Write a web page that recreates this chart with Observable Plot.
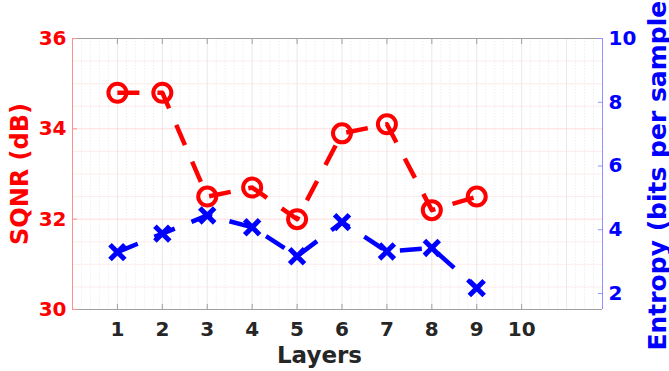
<!DOCTYPE html>
<html>
<head>
<meta charset="utf-8">
<script src="https://cdn.jsdelivr.net/npm/d3@7"></script>
<script src="https://cdn.jsdelivr.net/npm/@observablehq/plot@0.6"></script>
<style>
  html, body { margin: 0; padding: 0; background: #fff; }
  svg { display: block; }
</style>
</head>
<body>
<div id="chart"></div>
<script>
// ---- data ----
const layers = [1, 2, 3, 4, 5, 6, 7, 8, 9];
const sqnr = [34.8, 34.8, 32.5, 32.7, 32.0, 33.9, 34.1, 32.2, 32.5];
const entropy = [3.30, 3.88, 4.45, 4.08, 3.17, 4.24, 3.32, 3.43, 2.17];
const xTicks = [1, 2, 3, 4, 5, 6, 7, 8, 9, 10];
const sqnrTicks = [30, 32, 34, 36];
const entropyTicks = [2, 4, 6, 8, 10];
const xLabel = "Layers";
const leftLabel = "SQNR (dB)";
const rightLabel = "Entropy (bits per sample)";

// ---- scales ----
const xDomain = [0, 11.8];
const leftDomain = [30, 36];
const rightDomain = [1.5, 10];
const toLeft = e => leftDomain[0] + (e - rightDomain[0]) * (leftDomain[1] - leftDomain[0]) / (rightDomain[1] - rightDomain[0]);
const fromLeft = v => rightDomain[0] + (v - leftDomain[0]) * (rightDomain[1] - rightDomain[0]) / (leftDomain[1] - leftDomain[0]);

const sqnrData = layers.map((l, i) => ({layer: l, v: sqnr[i]}));
const entData = layers.map((l, i) => ({layer: l, v: toLeft(entropy[i])}));

const RED = "#ff0000", BLUE = "#0000ff", GRAY = "#262626";
const FONT = "'DejaVu Sans', sans-serif";

const minorX = d3.range(0.2, 11.8, 0.2).filter(v => Math.abs(v - Math.round(v)) > 1e-6);
const majorX = d3.range(1, 12, 1);
const minorY = d3.range(30.5, 36, 0.5).filter(v => Math.abs(v - Math.round(v)) > 1e-6 || v % 2 !== 0);

const chart = Plot.plot({
  width: 669,
  height: 371,
  marginLeft: 72,
  marginRight: 67,
  marginTop: 38,
  marginBottom: 62,
  style: {fontFamily: FONT, background: "#fff", overflow: "visible"},
  x: {domain: xDomain},
  y: {domain: leftDomain},
  marks: [
    // grid
    Plot.ruleX(minorX, {stroke: "#e4e4e4", strokeWidth: 0.6, strokeDasharray: "1.5,1.5"}),
    Plot.ruleX(majorX, {stroke: "#dedede", strokeWidth: 0.7}),
    Plot.ruleY(minorY, {stroke: "#fde4e4", strokeWidth: 0.7}),
    Plot.ruleY([32, 34], {stroke: "#ffd2d2", strokeWidth: 0.8}),
    // box
    Plot.ruleY([leftDomain[1]], {stroke: "#a0a0a0", strokeWidth: 1}),
    Plot.ruleY([leftDomain[0]], {stroke: "#a0a0a0", strokeWidth: 1}),
    Plot.ruleX([xDomain[0]], {stroke: "#ff9090", strokeWidth: 1}),
    Plot.ruleX([xDomain[1]], {stroke: "#9090ff", strokeWidth: 1}),
    // series lines
    Plot.line(sqnrData, {x: "layer", y: "v", stroke: RED, strokeWidth: 4.5, strokeDasharray: "22,18", strokeLinecap: "butt"}),
    Plot.line(entData, {x: "layer", y: "v", stroke: BLUE, strokeWidth: 4.5, strokeDasharray: "22,18", strokeLinecap: "butt"}),
    // markers
    Plot.dot(sqnrData, {x: "layer", y: "v", r: 9, stroke: RED, strokeWidth: 4, fill: "none"}),
    Plot.dot(entData, {x: "layer", y: "v", symbol: "times", r: 6.8, stroke: BLUE, strokeWidth: 5, fill: "none"}),
    // axes
    Plot.axisX(xTicks, {anchor: "bottom", tickSize: -5, tickPadding: 17, stroke: "#a0a0a0", fill: GRAY, fontSize: 20, fontWeight: "bold", label: null}),
    Plot.axisX(xTicks, {anchor: "top", tickSize: -5, tickFormat: () => "", stroke: "#a0a0a0", label: null}),
    Plot.axisY(sqnrTicks, {anchor: "left", tickSize: -5, tickPadding: 11, stroke: "#ff9090", fill: RED, fontSize: 20, fontWeight: "bold", label: null}),
    Plot.axisY(entropyTicks.map(toLeft), {anchor: "right", tickSize: -5, tickPadding: 11, stroke: "#9090ff", fill: BLUE, fontSize: 20, fontWeight: "bold", label: null, tickFormat: v => String(Math.round(fromLeft(v)))}),
    // axis labels
    Plot.text([xLabel], {text: d => d, frameAnchor: "bottom", textAnchor: "middle", dx: -18, dy: 37, lineAnchor: "top", fill: GRAY, fontSize: 23, fontWeight: "bold"}),
    Plot.text([leftLabel], {text: d => d, frameAnchor: "left", textAnchor: "middle", lineAnchor: "middle", dx: -52, rotate: -90, fill: RED, fontSize: 24, fontWeight: "bold"}),
    Plot.text([rightLabel], {text: d => d, frameAnchor: "right", textAnchor: "middle", lineAnchor: "middle", dx: 55, dy: -4, rotate: -90, fill: BLUE, fontSize: 25, fontWeight: "bold"})
  ]
});
document.getElementById("chart").appendChild(chart);
</script>
</body>
</html>
